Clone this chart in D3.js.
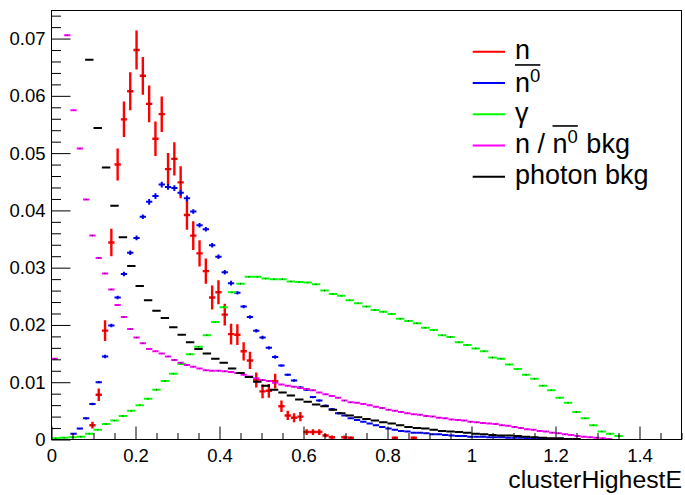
<!DOCTYPE html>
<html><head><meta charset="utf-8">
<script src="https://cdn.jsdelivr.net/npm/d3@7"></script>
<style>
body{margin:0;background:#fff}
svg{display:block}
text{font-family:"Liberation Sans",Arial,Helvetica,sans-serif;fill:#000}
</style>
</head><body>
<svg id="chart" width="685" height="495"></svg>
<script>
const _ = null;
// binning
const xMin = 0, xMax = 1.5;
const fineBinCount = 100;   // n, n0bar, n/n0 bkg
const coarseBinCount = 75;  // gamma, photon bkg
const yMax = 0.0749;

// axis ticks
const xMajorTicks = [0,0.2,0.4,0.6,0.8,1.0,1.2,1.4];
const xTickLabels = ["0","0.2","0.4","0.6","0.8","1","1.2","1.4"];
const yMajorTicks = [0,0.01,0.02,0.03,0.04,0.05,0.06,0.07];
const yTickLabels = ["0","0.01","0.02","0.03","0.04","0.05","0.06","0.07"];
const xTitle = "clusterHighestE";

// series: n (red)
const nVals = [_,_,_,_,_,_,0.0025,0.0078,0.0190,0.0344,
 0.0480,0.0559,0.0608,0.0680,0.0635,0.0586,0.0525,0.0568,0.0472,0.0490,
 0.0449,0.0392,0.0356,0.0325,0.0294,0.0248,0.0257,0.0218,0.0184,0.0183,
 0.0154,0.0138,0.0104,0.0084,0.0085,0.0102,0.0058,0.0042,0.0038,0.0040,
 0.0013,0.0013,0.0013,0.0007,0.0004,_,0.0004,0.0003,_,_,
 _,_,_,_,0.0003,_,_,0.0003];
const nErr = [_,_,_,_,_,_,0.0006,0.0011,0.0018,0.0024,
 0.0028,0.0031,0.0033,0.0034,0.0033,0.0032,0.0030,0.0031,0.0028,0.0029,
 0.0028,0.0026,0.0025,0.0023,0.0022,0.0021,0.0021,0.0019,0.0018,0.0018,
 0.0016,0.0015,0.0013,0.0012,0.0012,0.0013,0.0010,0.0008,0.0008,0.0008,
 0.0005,0.0005,0.0005,0.0003,0.0003,_,0.0003,0.0002,_,_,
 _,_,_,_,0.0002,_,_,0.0002];

// series: n0bar (blue)
const n0barVals = [_,_,_,0.0010,0.0019,0.0037,0.0062,0.0100,0.0145,0.0199,
 0.0248,0.0289,0.0326,0.0352,0.0389,0.0415,0.0425,0.0445,0.0441,0.0439,
 0.0431,0.0421,0.0398,0.0374,0.0367,0.0339,0.0319,0.0292,0.0273,0.0256,
 0.0232,0.0214,0.0190,0.0178,0.0160,0.0144,0.0129,0.0113,0.0103,0.0091,
 0.0087,0.0074,0.0068,0.0059,0.0053,0.0046,0.0042,0.0037,0.0034,0.0031,
 0.0028,0.0025,0.0022,0.0019,0.0017,0.0015,0.0014,0.0012,0.0012,0.0011,
 0.0009,0.0009,0.0008,0.0007,0.0006,0.0006,0.0005,0.0005,0.0005,0.0004,
 0.0004,0.0004,0.0003,0.0003,0.0003,0.0002,0.0002,0.0002,0.0001,0.0001];
const n0barErr = [_,_,_,0.0001,0.0001,0.0002,0.0002,0.0002,0.0003,0.0003,
 0.0003,0.0004,0.0004,0.0004,0.0004,0.0005,0.0005,0.0005,0.0005,0.0005,
 0.0005,0.0005,0.0004,0.0004,0.0004,0.0004,0.0004,0.0004,0.0004,0.0003,
 0.0003,0.0003,0.0003,0.0003,0.0003,0.0003,0.0002,0.0002,0.0002,0.0002,
 0.0002,0.0002,0.0002,0.0002,0.0002,0.0002];

// series: gamma (green), coarse bins
const gammaVals = [0.0002,0.0003,0.0004,0.0005,0.0010,0.0017,0.0027,0.0033,0.0041,0.0050,
 0.0060,0.0071,0.0087,0.0102,0.0115,0.0132,0.0149,0.0162,0.0182,0.0205,
 0.0231,0.0257,0.0272,0.0284,0.0284,0.0281,0.0280,0.0280,0.0276,0.0275,
 0.0274,0.0271,0.0260,0.0254,0.0251,0.0243,0.0238,0.0232,0.0226,0.0223,
 0.0219,0.0211,0.0207,0.0203,0.0195,0.0191,0.0182,0.0179,0.0170,0.0165,
 0.0159,0.0154,0.0143,0.0141,0.0131,0.0123,0.0113,0.0106,0.0094,0.0086,
 0.0073,0.0064,0.0048,0.0037,0.0025,0.0014,0.0010,0.0006];

// series: n / n0bar bkg (magenta)
const nbkgVals = [0.0141,_,0.0706,0.0575,0.0508,0.0419,0.0356,0.0317,0.0290,0.0262,
 0.0235,0.0214,0.0193,0.0178,0.0168,0.0158,0.0154,0.0150,0.0145,0.0139,
 0.0134,0.0130,0.0127,0.0124,0.0121,0.0120,0.0120,0.0119,0.0118,0.0116,
 0.0113,0.0110,0.0107,0.0104,0.0102,0.0099,0.0096,0.0094,0.0092,0.0090,
 0.0088,0.0086,0.0082,0.0079,0.0076,0.0073,0.0068,0.0065,0.0064,0.0062,
 0.0060,0.0057,0.0055,0.0052,0.0050,0.0048,0.0046,0.0044,0.0043,0.0041,
 0.0040,0.0038,0.0037,0.0035,0.0034,0.0033,0.0031,0.0030,0.0029,0.0028,
 0.0027,0.0025,0.0024,0.0022,0.0020,0.0018,0.0017,0.0015,0.0014,0.0012,
 0.0011,0.0009,0.0008,0.0006,0.0005,0.0004,0.0003,0.0002,0.0001];

// series: photon bkg (black), coarse bins
const photonVals = [_,_,_,_,0.0663,0.0544,0.0475,0.0408,0.0353,0.0303,
 0.0268,0.0243,0.0225,0.0212,0.0196,0.0183,0.0170,0.0158,0.0150,0.0141,
 0.0134,0.0124,0.0116,0.0109,0.0101,0.0094,0.0087,0.0082,0.0077,0.0070,
 0.0066,0.0061,0.0058,0.0052,0.0046,0.0042,0.0039,0.0036,0.0033,0.0030,
 0.0028,0.0025,0.0022,0.0020,0.0019,0.0017,0.0015,0.0014,0.0013,0.0012,
 0.0010,0.0009,0.0008,0.0007,0.0007,0.0006,0.0005,0.0004,0.0003,0.0002,
 0.0002,0.0001,0.0001];

const seriesColors = ["#ff0000","#0000ff","#00ff00","#ff00ff","#000000"];
const legendLabels = [
  [{t:"n"}],
  [{t:"n",bar:1},{t:"0",sup:1,bar:1}],
  [{t:"γ"}],
  [{t:"n\u00a0/\u00a0"},{t:"n",bar:1},{t:"0",sup:1,bar:1},{t:"\u00a0bkg"}],
  [{t:"photon bkg"}]
];

const series = [
  {vals:nVals, errs:nErr, bins:fineBinCount, color:seriesColors[0], lw:2.4},
  {vals:n0barVals, errs:n0barErr, bins:fineBinCount, color:seriesColors[1], lw:2},
  {vals:gammaVals, errs:[], bins:coarseBinCount, color:seriesColors[2], lw:2},
  {vals:nbkgVals, errs:[], bins:fineBinCount, color:seriesColors[3], lw:2},
  {vals:photonVals, errs:[], bins:coarseBinCount, color:seriesColors[4], lw:2}
];

// layout
const L = 51.5, R = 681.5, T = 10.5, B = 439.5;
const svg = d3.select("#chart");
const x = d3.scaleLinear().domain([xMin,xMax]).range([L,R]);
const y = d3.scaleLinear().domain([0,yMax]).range([B,T]);

svg.append("defs").append("clipPath").attr("id","frameclip")
  .append("rect").attr("x",L).attr("y",T).attr("width",R-L).attr("height",B-T);

// histograms
const plot = svg.append("g").attr("clip-path","url(#frameclip)");
series.forEach(s => {
  const w = (xMax-xMin)/s.bins;
  const g = plot.append("g").attr("stroke",s.color).attr("stroke-width",s.lw).attr("fill","none");
  s.vals.forEach((v,i) => {
    if (v === null || v === undefined) return;
    const lo = xMin + i*w, hi = lo + w, c = lo + w/2;
    g.append("line").attr("x1",x(lo)).attr("x2",x(hi)).attr("y1",y(v)).attr("y2",y(v));
    const e = s.errs[i];
    if (e) g.append("line").attr("x1",x(c)).attr("x2",x(c)).attr("y1",y(v-e)).attr("y2",y(v+e));
    plot.append("rect").attr("x",x(c)-0.6).attr("y",y(v)-0.6).attr("width",1.2).attr("height",1.2)
      .attr("fill","#000").attr("opacity",0.7);
  });
});

// frame
svg.append("rect").attr("x",L).attr("y",T).attr("width",R-L).attr("height",B-T)
  .attr("fill","none").attr("stroke","#000").attr("stroke-width",1);

// x axis
const xAxisG = svg.append("g").attr("transform",`translate(0,${B})`);
xAxisG.call(d3.axisBottom(x).tickValues(xMajorTicks).tickSize(-13).tickPadding(9.5)
  .tickFormat((d,i)=>xTickLabels[i]));
const xMinor = d3.range(0, 1.5001, 0.05).filter(v => !xMajorTicks.some(m=>Math.abs(m-v)<1e-6));
xAxisG.append("g").call(d3.axisBottom(x).tickValues(xMinor).tickSize(-6.5).tickFormat(""));
xAxisG.selectAll(".domain").remove();
xAxisG.selectAll("text").attr("font-size","18.5px").attr("font-family","Liberation Sans, Arial, sans-serif");

// y axis
const yAxisG = svg.append("g").attr("transform",`translate(${L},0)`);
yAxisG.call(d3.axisLeft(y).tickValues(yMajorTicks).tickSize(-19).tickPadding(6)
  .tickFormat((d,i)=>yTickLabels[i]));
const yMinor = d3.range(0, 0.0745, 0.002).filter(v => !yMajorTicks.some(m=>Math.abs(m-v)<1e-6));
yAxisG.append("g").call(d3.axisLeft(y).tickValues(yMinor).tickSize(-9.5).tickFormat(""));
yAxisG.selectAll(".domain").remove();
yAxisG.selectAll("text").attr("font-size","18.5px").attr("font-family","Liberation Sans, Arial, sans-serif");
svg.selectAll(".tick line").attr("stroke","#000");

// x title
svg.append("text").attr("x",682).attr("y",488).attr("text-anchor","end")
  .attr("font-size","24.8px").text(xTitle);

// legend
const lg = svg.append("g");
legendLabels.forEach((parts,i) => {
  const ly = 51.7 + i*31.25;
  lg.append("line").attr("x1",472.7).attr("x2",505).attr("y1",ly).attr("y2",ly)
    .attr("stroke",seriesColors[i]).attr("stroke-width",2);
  const base = ly + (i===1 ? 9 : 7.5);
  let cx = 515, barStart = null, barEnd = null;
  parts.forEach(p => {
    const t = lg.append("text").attr("x",cx).attr("y", p.sup ? base-9.5 : base)
      .attr("font-size", p.sup ? "18.5px" : "27px").text(p.t);
    const wdt = t.node().getComputedTextLength();
    if (p.bar) { if (barStart===null) barStart = cx; barEnd = cx + wdt; }
    cx += wdt + (p.sup ? 1 : 0);
  });
  if (barStart !== null) {
    lg.append("line").attr("x1",barStart).attr("x2",barEnd)
      .attr("y1",base-27).attr("y2",base-27).attr("stroke","#000").attr("stroke-width",1.6);
  }
});
</script>
</body></html>
